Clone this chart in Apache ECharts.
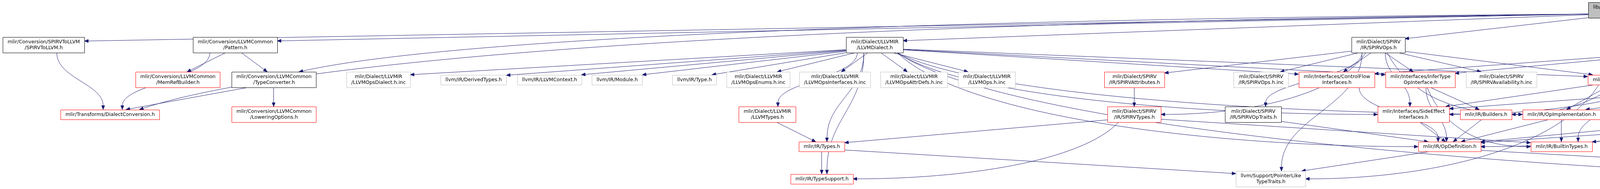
<!DOCTYPE html>
<html>
<head>
<meta charset="utf-8">
<script src="https://cdn.jsdelivr.net/npm/echarts@6/dist/echarts.min.js"></script>
<style>
  html, body { margin: 0; padding: 0; background: #fff; }
  #chart { width: 5517px; height: 484px; }
</style>
</head>
<body>
<div id="chart"></div>
<script>
const chart = echarts.init(document.getElementById('chart'))

const FONT_SIZE = 12.6
const FONT_FAMILY = '"DejaVu Sans", sans-serif'
const LINE_HEIGHT = 15
const PAD_X = 12
const EDGE_COLOR = '#191970'
const ARROW_LEN = 10
const ARROW_HALF = 4

// Node ids, labels, kind (root / fully shown / truncated / external)
const nodeIds = [
  'cpp',
  's2lH', 'pattern', 'llvmDialect', 'spirvOps', 'patternMatch', 'stdOps',
  'spirvDialect', 'layoutUtils', 'logicalResult', 'debug', 'formatVariadic',
  'memRefBuilder', 'typeConverter', 'llvmOpsDialectInc', 'derivedTypes', 'llvmContext',
  'module', 'llvmType', 'llvmOpsEnumsInc', 'llvmOpsInterfacesInc', 'llvmOpsAttrDefsInc',
  'llvmOpsInc', 'spirvAttributes', 'spirvOpsInc', 'controlFlow', 'inferType',
  'spirvAvailabilityInc', 'builtinOps', 'arithmetic', 'opsEnumsInc', 'spirvOpsDialectInc', 'cstdint',
  'dialectConversion', 'loweringOptions', 'llvmTypes', 'spirvTypes', 'spirvOpTraits',
  'sideEffect', 'builders', 'opImplementation', 'callInterfaces', 'castInterfaces', 'vectorInterfaces',
  'types', 'opDefinition', 'builtinTypes',
  'typeSupport', 'pointerLike', 'dialect',
]

const nodeLabels = [
  'lib/Conversion/SPIRVToLLVM\n/SPIRVToLLVM.cpp',
  'mlir/Conversion/SPIRVToLLVM\n/SPIRVToLLVM.h',
  'mlir/Conversion/LLVMCommon\n/Pattern.h',
  'mlir/Dialect/LLVMIR\n/LLVMDialect.h',
  'mlir/Dialect/SPIRV\n/IR/SPIRVOps.h',
  'mlir/IR/PatternMatch.h',
  'mlir/Dialect/StandardOps\n/IR/Ops.h',
  'mlir/Dialect/SPIRV\n/IR/SPIRVDialect.h',
  'mlir/Dialect/SPIRV\n/Utils/LayoutUtils.h',
  'mlir/Support/LogicalResult.h',
  'llvm/Support/Debug.h',
  'llvm/Support/FormatVariadic.h',
  'mlir/Conversion/LLVMCommon\n/MemRefBuilder.h',
  'mlir/Conversion/LLVMCommon\n/TypeConverter.h',
  'mlir/Dialect/LLVMIR\n/LLVMOpsDialect.h.inc',
  'llvm/IR/DerivedTypes.h',
  'llvm/IR/LLVMContext.h',
  'llvm/IR/Module.h',
  'llvm/IR/Type.h',
  'mlir/Dialect/LLVMIR\n/LLVMOpsEnums.h.inc',
  'mlir/Dialect/LLVMIR\n/LLVMOpsInterfaces.h.inc',
  'mlir/Dialect/LLVMIR\n/LLVMOpsAttrDefs.h.inc',
  'mlir/Dialect/LLVMIR\n/LLVMOps.h.inc',
  'mlir/Dialect/SPIRV\n/IR/SPIRVAttributes.h',
  'mlir/Dialect/SPIRV\n/IR/SPIRVOps.h.inc',
  'mlir/Interfaces/ControlFlow\nInterfaces.h',
  'mlir/Interfaces/InferType\nOpInterface.h',
  'mlir/Dialect/SPIRV\n/IR/SPIRVAvailability.h.inc',
  'mlir/IR/BuiltinOps.h',
  'mlir/Dialect/Arithmetic\n/IR/Arithmetic.h',
  'mlir/Dialect/StandardOps\n/IR/OpsEnums.h.inc',
  'mlir/Dialect/SPIRV\n/IR/SPIRVOpsDialect.h.inc',
  'cstdint',
  'mlir/Transforms/DialectConversion.h',
  'mlir/Conversion/LLVMCommon\n/LoweringOptions.h',
  'mlir/Dialect/LLVMIR\n/LLVMTypes.h',
  'mlir/Dialect/SPIRV\n/IR/SPIRVTypes.h',
  'mlir/Dialect/SPIRV\n/IR/SPIRVOpTraits.h',
  'mlir/Interfaces/SideEffect\nInterfaces.h',
  'mlir/IR/Builders.h',
  'mlir/IR/OpImplementation.h',
  'mlir/Interfaces/CallInterfaces.h',
  'mlir/Interfaces/CastInterfaces.h',
  'mlir/Interfaces/VectorInterfaces.h',
  'mlir/IR/Types.h',
  'mlir/IR/OpDefinition.h',
  'mlir/IR/BuiltinTypes.h',
  'mlir/IR/TypeSupport.h',
  'llvm/Support/PointerLike\nTypeTraits.h',
  'mlir/IR/Dialect.h',
]

const nodeKinds = [
  'root',
  'full', 'full', 'full', 'full', 'trunc', 'trunc', 'full', 'full', 'trunc', 'ext', 'ext',
  'trunc', 'full', 'ext', 'ext', 'ext', 'ext', 'ext', 'ext', 'ext', 'ext',
  'ext', 'trunc', 'ext', 'trunc', 'trunc', 'ext', 'trunc', 'trunc', 'ext', 'ext', 'ext',
  'trunc', 'trunc', 'trunc', 'trunc', 'full', 'trunc', 'trunc', 'trunc', 'trunc', 'trunc', 'trunc',
  'trunc', 'trunc', 'trunc',
  'trunc', 'ext', 'trunc',
]

// layout: rank (row) of each node and its horizontal centre
const nodeRanks = [
  0,
  1, 1, 1, 1, 1, 1, 1, 1, 1, 1, 1,
  2, 2, 2, 2, 2, 2, 2, 2, 2, 2, 2, 2, 2, 2, 2, 2, 2, 2, 2, 2, 2,
  3, 3, 3, 3, 3, 3, 3, 3, 3, 3, 3,
  4, 4, 4,
  5, 5, 5,
]
const nodeCx = [
  4165,
  111.5, 601.5, 2238.5, 3528, 4226.5, 4426.5, 4613, 4779.5, 4980, 5187, 5402.5,
  454.5, 700.5, 968.5, 1212, 1406, 1579.5, 1777, 1940.5, 2137, 2339.5,
  2525.5, 2904, 3228, 3421.5, 3635.5, 3843.5, 4137.5, 4625.5, 4929.5, 5242, 5391.5,
  281, 700.5, 1964, 2903.5, 3208, 3618.5, 3803.5, 3997, 4234, 4483.5, 4791.5,
  2103.5, 3710.5, 3997,
  2103.5, 3253, 4999.5,
]
const rankY = [26, 115, 204, 293, 375.5, 458]

// include edges: [includer, included]
const links = [
  ['cpp', 's2lH'], ['cpp', 'pattern'], ['cpp', 'typeConverter'], ['cpp', 'dialectConversion'],
  ['cpp', 'llvmDialect'], ['cpp', 'spirvOps'], ['cpp', 'patternMatch'], ['cpp', 'builtinOps'],
  ['cpp', 'stdOps'], ['cpp', 'spirvDialect'], ['cpp', 'layoutUtils'], ['cpp', 'logicalResult'],
  ['cpp', 'debug'], ['cpp', 'formatVariadic'],
  ['s2lH', 'dialectConversion'],
  ['pattern', 'memRefBuilder'], ['pattern', 'typeConverter'], ['pattern', 'dialectConversion'],
  ['typeConverter', 'loweringOptions'], ['typeConverter', 'dialectConversion'],
  ['llvmDialect', 'llvmOpsDialectInc'], ['llvmDialect', 'derivedTypes'], ['llvmDialect', 'llvmContext'],
  ['llvmDialect', 'module'], ['llvmDialect', 'llvmType'], ['llvmDialect', 'llvmOpsEnumsInc'],
  ['llvmDialect', 'llvmOpsInterfacesInc'], ['llvmDialect', 'llvmOpsAttrDefsInc'], ['llvmDialect', 'llvmOpsInc'],
  ['llvmDialect', 'llvmTypes'], ['llvmDialect', 'types'], ['llvmDialect', 'typeSupport'],
  ['llvmDialect', 'builtinOps'], ['llvmDialect', 'controlFlow'], ['llvmDialect', 'inferType'],
  ['llvmDialect', 'sideEffect'], ['llvmDialect', 'opImplementation'], ['llvmDialect', 'opDefinition'],
  ['llvmDialect', 'dialect'],
  ['llvmTypes', 'types'],
  ['types', 'typeSupport'], ['types', 'pointerLike'],
  ['spirvOps', 'spirvAttributes'], ['spirvOps', 'spirvTypes'], ['spirvOps', 'spirvOpsInc'],
  ['spirvOps', 'spirvOpTraits'], ['spirvOps', 'controlFlow'], ['spirvOps', 'inferType'],
  ['spirvOps', 'spirvAvailabilityInc'], ['spirvOps', 'builtinOps'], ['spirvOps', 'sideEffect'],
  ['spirvOps', 'opImplementation'], ['spirvOps', 'pointerLike'],
  ['spirvAttributes', 'spirvTypes'],
  ['spirvTypes', 'types'], ['spirvTypes', 'typeSupport'], ['spirvTypes', 'builtinTypes'],
  ['spirvOpTraits', 'opDefinition'],
  ['patternMatch', 'builtinOps'], ['patternMatch', 'builders'],
  ['builtinOps', 'sideEffect'], ['builtinOps', 'opImplementation'], ['builtinOps', 'callInterfaces'],
  ['builtinOps', 'castInterfaces'], ['builtinOps', 'pointerLike'],
  ['stdOps', 'controlFlow'], ['stdOps', 'inferType'], ['stdOps', 'arithmetic'], ['stdOps', 'opsEnumsInc'],
  ['stdOps', 'sideEffect'], ['stdOps', 'opImplementation'], ['stdOps', 'callInterfaces'],
  ['stdOps', 'castInterfaces'], ['stdOps', 'vectorInterfaces'], ['stdOps', 'builtinTypes'],
  ['stdOps', 'dialect'],
  ['arithmetic', 'sideEffect'], ['arithmetic', 'opImplementation'], ['arithmetic', 'castInterfaces'],
  ['arithmetic', 'vectorInterfaces'], ['arithmetic', 'opDefinition'], ['arithmetic', 'dialect'],
  ['controlFlow', 'opDefinition'],
  ['inferType', 'builders'], ['inferType', 'opDefinition'], ['inferType', 'builtinTypes'],
  ['sideEffect', 'opDefinition'],
  ['builders', 'opDefinition'],
  ['opImplementation', 'opDefinition'], ['opImplementation', 'builtinTypes'],
  ['castInterfaces', 'opDefinition'],
  ['vectorInterfaces', 'opDefinition'], ['vectorInterfaces', 'builtinTypes'],
  ['opDefinition', 'pointerLike'], ['opDefinition', 'dialect'],
  ['spirvDialect', 'spirvOpsDialectInc'], ['spirvDialect', 'dialect'],
  ['layoutUtils', 'cstdint'],
]

const kindStyle = {
  root: { fill: '#bfbfbf', stroke: '#000000' },
  full: { fill: '#ffffff', stroke: '#000000' },
  trunc: { fill: '#ffffff', stroke: '#ff0000' },
  ext: { fill: '#ffffff', stroke: '#bfbfbf' },
}

// box sizes follow the label text
const measureCtx = document.createElement('canvas').getContext('2d')
measureCtx.font = `${FONT_SIZE}px ${FONT_FAMILY}`
const boxW = nodeLabels.map((label) =>
  Math.round(Math.max(...label.split('\n').map((s) => measureCtx.measureText(s).width)) + 2 * PAD_X)
)
const boxH = nodeLabels.map((label) => label.split('\n').length * LINE_HEIGHT + 10)

const idIndex = {}
nodeIds.forEach((id, i) => { idIndex[id] = i })

function boxOf(i, api) {
  const c = api.coord([nodeCx[i], rankY[nodeRanks[i]]])
  const w = boxW[i]
  const h = boxH[i]
  return { cx: c[0], cy: c[1], l: c[0] - w / 2, r: c[0] + w / 2, t: c[1] - h / 2, b: c[1] + h / 2, w, h }
}

// distance factor along (dx, dy) from an inside point to the box border
function exitT(box, x, y, dx, dy) {
  let t = Infinity
  if (dx > 0) t = Math.min(t, (box.r - x) / dx)
  if (dx < 0) t = Math.min(t, (box.l - x) / dx)
  if (dy > 0) t = Math.min(t, (box.b - y) / dy)
  if (dy < 0) t = Math.min(t, (box.t - y) / dy)
  return t
}

const clamp = (v, lim) => Math.max(-lim, Math.min(lim, v))

function edgeGeometry(si, ti, api) {
  const s = boxOf(si, api)
  const t = boxOf(ti, api)
  const span = nodeRanks[ti] - nodeRanks[si]
  const dx = t.cx - s.cx
  const dy = t.cy - s.cy
  const sign = dx >= 0 ? 1 : -1

  if (span <= 1) {
    const ax = s.cx, ay = s.cy + s.h * 0.2
    const bx = t.cx, by = t.cy - t.h * 0.2
    const ux = bx - ax, uy = by - ay
    const k0 = exitT(s, ax, ay, ux, uy)
    const k1 = exitT(t, bx, by, -ux, -uy)
    return { p0: [ax + ux * k0, ay + uy * k0], p1: [bx - ux * k1, by - uy * k1] }
  }

  if (Math.abs(dx) <= 2 * dy) {
    const p0 = [s.cx + clamp(dx * 0.2, s.w * 0.3), s.b]
    const p1 = [t.cx - clamp(dx * 0.1, t.w * 0.3), t.t]
    const h = p1[1] - p0[1]
    return { p0, p1, c1: [p0[0], p0[1] + h * 0.45], c2: [p1[0], p1[1] - h * 0.45] }
  }

  if (nodeRanks[si] === 0) {
    // runs along the top, then drops into the target
    const p0 = [sign > 0 ? s.r : s.l, s.cy + s.h * 0.25]
    const p1 = [t.cx - sign * t.w * 0.3, t.t]
    const h = p1[1] - p0[1]
    return {
      p0, p1,
      c1: [p0[0] + (p1[0] - p0[0]) * 0.6, p0[1] + h * 0.1],
      c2: [p1[0] - (p1[0] - p0[0]) * 0.1, p1[1] - h * 0.5],
    }
  }

  // drops first, then arrives at the target side
  const p0 = [s.cx + sign * Math.min(Math.abs(dx) * 0.05, s.w * 0.4), s.b]
  const p1 = [sign > 0 ? t.l : t.r, t.cy]
  return {
    p0, p1,
    c1: [p0[0] + dx * 0.12, p0[1] + (p1[1] - p0[1]) * 0.7],
    c2: [p1[0] - sign * Math.min(Math.abs(dx) * 0.35, 600), p1[1]],
  }
}

function renderEdge(params, api) {
  const [si, ti] = links[params.dataIndex].map((id) => idIndex[id])
  const g = edgeGeometry(si, ti, api)
  const from = g.c2 || g.p0
  let ux = g.p1[0] - from[0]
  let uy = g.p1[1] - from[1]
  const len = Math.hypot(ux, uy) || 1
  ux /= len
  uy /= len
  const bx = g.p1[0] - ux * ARROW_LEN
  const by = g.p1[1] - uy * ARROW_LEN
  const lineEl = g.c1
    ? {
        type: 'bezierCurve',
        shape: { x1: g.p0[0], y1: g.p0[1], cpx1: g.c1[0], cpy1: g.c1[1], cpx2: g.c2[0], cpy2: g.c2[1], x2: bx, y2: by },
        style: { stroke: EDGE_COLOR, fill: 'none', lineWidth: 1 },
      }
    : {
        type: 'line',
        shape: { x1: g.p0[0], y1: g.p0[1], x2: bx, y2: by },
        style: { stroke: EDGE_COLOR, fill: 'none', lineWidth: 1 },
      }
  return {
    type: 'group',
    children: [
      lineEl,
      {
        type: 'polygon',
        shape: {
          points: [
            [g.p1[0], g.p1[1]],
            [bx - uy * ARROW_HALF, by + ux * ARROW_HALF],
            [bx + uy * ARROW_HALF, by - ux * ARROW_HALF],
          ],
        },
        style: { fill: EDGE_COLOR, stroke: EDGE_COLOR, lineWidth: 1 },
      },
    ],
  }
}

function renderNode(params, api) {
  const i = params.dataIndex
  const b = boxOf(i, api)
  const st = kindStyle[nodeKinds[i]]
  const x = Math.round(b.l) + 0.5
  const y = Math.round(b.t) + 0.5
  return {
    type: 'group',
    children: [
      {
        type: 'rect',
        shape: { x, y, width: b.w, height: b.h },
        style: { fill: st.fill, stroke: st.stroke, lineWidth: 1 },
      },
      {
        type: 'text',
        x: x + b.w / 2,
        y: y + b.h / 2,
        style: {
          text: nodeLabels[i],
          fontSize: FONT_SIZE,
          fontFamily: FONT_FAMILY,
          fill: '#000000',
          align: 'center',
          verticalAlign: 'middle',
          lineHeight: LINE_HEIGHT,
        },
      },
    ],
  }
}

const option = {
  backgroundColor: '#ffffff',
  animation: false,
  grid: { left: 0, right: 0, top: 0, bottom: 0 },
  xAxis: { type: 'value', min: 0, max: 5517, show: false },
  yAxis: { type: 'value', min: 0, max: 484, inverse: true, show: false },
  series: [
    {
      type: 'custom',
      name: 'includes',
      z: 2,
      clip: false,
      silent: true,
      renderItem: renderEdge,
      data: links.map(([a, b]) => [nodeCx[idIndex[a]], rankY[nodeRanks[idIndex[b]]]]),
    },
    {
      type: 'custom',
      name: 'files',
      z: 3,
      clip: false,
      silent: true,
      renderItem: renderNode,
      data: nodeIds.map((_, i) => [nodeCx[i], rankY[nodeRanks[i]]]),
    },
  ],
}

chart.setOption(option)
</script>
</body>
</html>
